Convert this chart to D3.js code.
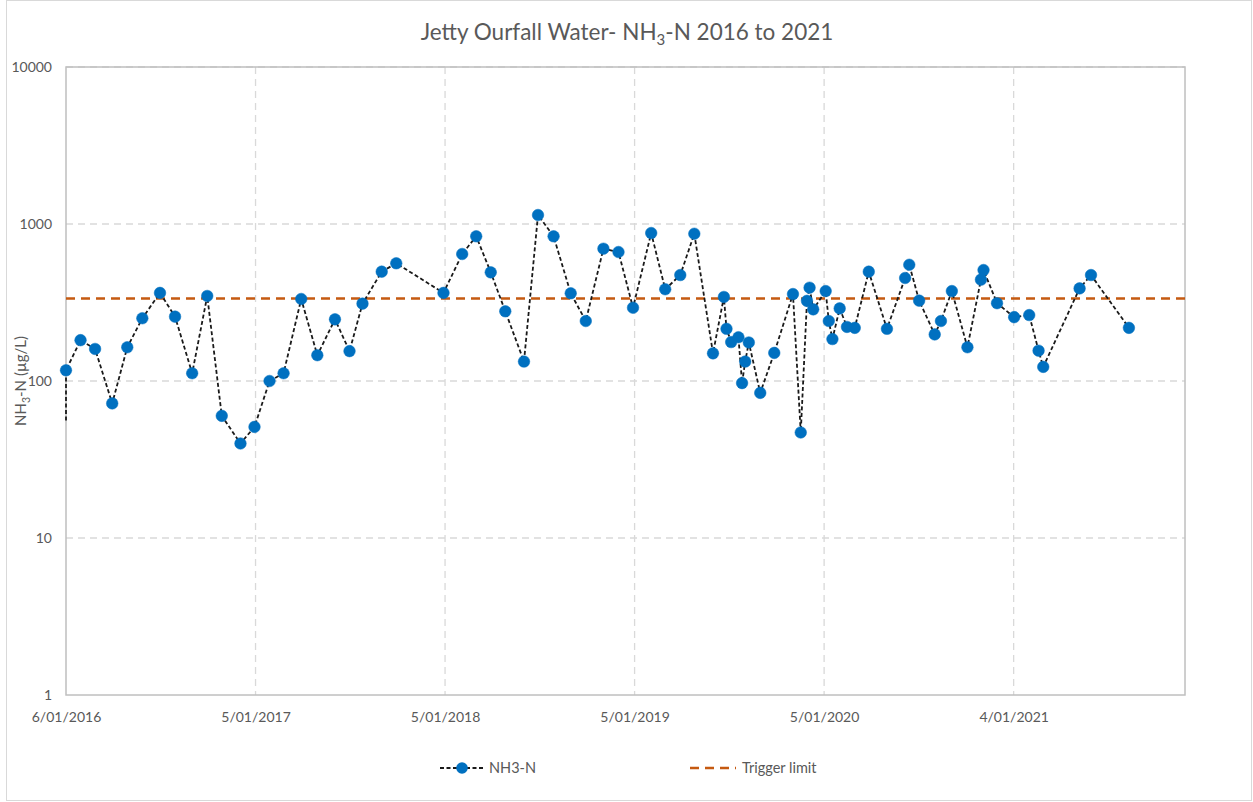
<!DOCTYPE html>
<html>
<head>
<meta charset="utf-8">
<script src="https://cdn.jsdelivr.net/npm/d3@7"></script>
<style>
  body { margin: 0; background: #fff; }
  text { font-family: Lato, "Open Sans", sans-serif; fill: #595959; }
</style>
</head>
<body>
<script>
// sample dates (yyyy-mm-dd) and NH3-N results in ug/L
var sampleDates = [
  "2016-01-06","2016-02-03","2016-03-02","2016-04-04","2016-05-03","2016-06-01",
  "2016-07-05","2016-08-03","2016-09-05","2016-10-04","2016-11-01","2016-12-07",
  "2017-01-03","2017-02-01","2017-02-28","2017-04-03","2017-05-04","2017-06-07",
  "2017-07-05","2017-07-30","2017-09-05","2017-10-03","2018-01-02","2018-02-07",
  "2018-03-06","2018-04-03","2018-05-01","2018-06-06","2018-07-03","2018-08-02",
  "2018-09-04","2018-10-03","2018-11-06","2018-12-05","2019-01-02","2019-02-06",
  "2019-03-05","2019-04-03","2019-04-30","2019-06-05","2019-06-26","2019-07-01",
  "2019-07-10","2019-07-24","2019-07-31","2019-08-06","2019-08-13","2019-09-04",
  "2019-10-01","2019-11-06","2019-11-21","2019-12-03","2019-12-08","2019-12-15",
  "2020-01-08","2020-01-14","2020-01-21","2020-02-04","2020-02-18","2020-03-04",
  "2020-03-31","2020-05-05","2020-06-09","2020-06-17","2020-07-06","2020-08-05",
  "2020-08-17","2020-09-07","2020-10-07","2020-11-02","2020-11-07","2020-12-03",
  "2021-01-05","2021-02-03","2021-02-21","2021-03-02","2021-05-11","2021-06-02",
  "2021-08-14"
];
var nh3Values = [
  117, 182, 160, 72, 164, 251,
  364, 257, 112, 348, 60, 40,
  51, 100, 112, 333, 146, 247,
  155, 311, 497, 562, 364, 644,
  835, 492, 278, 133, 1141, 835,
  362, 241, 696, 663, 293, 876,
  384, 473, 867, 150, 343, 215,
  177, 190, 97, 133, 176, 84,
  151, 358, 47, 324, 393, 286,
  374, 241, 185, 290, 221, 218,
  497, 215, 453, 550, 325, 198,
  241, 374, 164, 442, 509, 313,
  255, 263, 156, 123, 389, 473,
  218
];
// line starts from an unmarked reading on the first day
var leadInValue = 56;
var triggerLimit = 335;

var xTickDates = ["2016-01-06","2017-01-05","2018-01-05","2019-01-05","2020-01-05","2021-01-04"];
var xTickLabels = ["6/01/2016","5/01/2017","5/01/2018","5/01/2019","5/01/2020","4/01/2021"];
var xDomain = ["2016-01-06","2021-11-30"];
var yTicks = [1, 10, 100, 1000, 10000];

var w = 1253;
var h = 802;
var plotLeft = 66, plotRight = 1185, plotTop = 67, plotBottom = 695;

var parse = d3.timeParse("%Y-%m-%d");

var data = sampleDates.map(function(d, i) {
  return { date: parse(d), value: nh3Values[i] };
});
var lineData = [{ date: parse(sampleDates[0]), value: leadInValue }].concat(data);

var svg = d3.select("body")
  .append("svg")
  .attr("width", w)
  .attr("height", h);

// chart border
svg.append("rect")
  .attr("x", 6.5).attr("y", 0.5)
  .attr("width", w - 8).attr("height", h - 2)
  .attr("fill", "#fff")
  .attr("stroke", "#d9d9d9");

var x = d3.scaleTime()
  .domain(xDomain.map(parse))
  .range([plotLeft, plotRight]);

var y = d3.scaleLog()
  .domain([1, 10000])
  .range([plotBottom, plotTop]);

// gridlines
svg.append("g")
  .selectAll("line")
  .data(yTicks.slice(1))
  .enter()
  .append("line")
  .attr("x1", plotLeft).attr("x2", plotRight)
  .attr("y1", function(d) { return y(d); })
  .attr("y2", function(d) { return y(d); })
  .attr("stroke", "#d9d9d9")
  .attr("stroke-width", 1.3)
  .attr("stroke-dasharray", "7,5");

svg.append("g")
  .selectAll("line")
  .data(xTickDates.slice(1))
  .enter()
  .append("line")
  .attr("x1", function(d) { return x(parse(d)); })
  .attr("x2", function(d) { return x(parse(d)); })
  .attr("y1", plotTop).attr("y2", plotBottom)
  .attr("stroke", "#d9d9d9")
  .attr("stroke-width", 1.3)
  .attr("stroke-dasharray", "7,5");

// plot area frame
svg.append("rect")
  .attr("x", plotLeft).attr("y", plotTop)
  .attr("width", plotRight - plotLeft).attr("height", plotBottom - plotTop)
  .attr("fill", "none")
  .attr("stroke", "#bfbfbf")
  .attr("stroke-width", 1.5);

// axes
var yAxis = d3.axisLeft(y)
  .tickValues(yTicks)
  .tickFormat(d3.format("d"))
  .tickSize(0)
  .tickPadding(14);

svg.append("g")
  .attr("transform", "translate(" + plotLeft + ",0)")
  .call(yAxis)
  .call(function(g) { g.select(".domain").remove(); })
  .selectAll("text")
  .style("font-size", "14px")
  .attr("fill", "#595959");

var xAxis = d3.axisBottom(x)
  .tickValues(xTickDates.map(parse))
  .tickFormat(function(d, i) { return xTickLabels[i]; })
  .tickSize(0)
  .tickPadding(17);

svg.append("g")
  .attr("transform", "translate(0," + plotBottom + ")")
  .call(xAxis)
  .call(function(g) { g.select(".domain").remove(); })
  .selectAll("text")
  .style("font-size", "14px")
  .attr("fill", "#595959");

// trigger limit
svg.append("line")
  .attr("x1", plotLeft).attr("x2", plotRight)
  .attr("y1", y(triggerLimit)).attr("y2", y(triggerLimit))
  .attr("stroke", "#c55a11")
  .attr("stroke-width", 2.5)
  .attr("stroke-dasharray", "9,6");

// NH3-N series
var line = d3.line()
  .x(function(d) { return x(d.date); })
  .y(function(d) { return y(d.value); });

svg.append("path")
  .datum(lineData)
  .attr("d", line)
  .attr("fill", "none")
  .attr("stroke", "#1a1a1a")
  .attr("stroke-width", 1.8)
  .attr("stroke-dasharray", "4,2.5");

svg.selectAll("circle.pt")
  .data(data)
  .enter()
  .append("circle")
  .attr("class", "pt")
  .attr("cx", function(d) { return x(d.date); })
  .attr("cy", function(d) { return y(d.value); })
  .attr("r", 5.8)
  .attr("fill", "#0070c0")
  .attr("stroke", "#0070c0")
  .attr("stroke-width", 0.5);

// title
var title = svg.append("text")
  .attr("x", 627)
  .attr("y", 40)
  .attr("text-anchor", "middle")
  .style("font-size", "22.5px");
title.append("tspan").text("Jetty Ourfall Water- NH");
title.append("tspan").attr("dy", 5).style("font-size", "15px").text("3");
title.append("tspan").attr("dy", -5).text("-N 2016 to 2021");

// y axis title
var yTitle = svg.append("text")
  .attr("transform", "translate(26," + ((plotTop + plotBottom) / 2) + ") rotate(-90)")
  .attr("text-anchor", "middle")
  .style("font-size", "15px");
yTitle.append("tspan").text("NH");
yTitle.append("tspan").attr("dy", 4).style("font-size", "10.5px").text("3");
yTitle.append("tspan").attr("dy", -4).text("-N (µg/L)");

// legend
var legend = svg.append("g").attr("transform", "translate(0,768)");
legend.append("line")
  .attr("x1", 440).attr("x2", 484)
  .attr("stroke", "#1a1a1a")
  .attr("stroke-width", 1.8)
  .attr("stroke-dasharray", "4,2.5");
legend.append("circle")
  .attr("cx", 462).attr("cy", 0).attr("r", 5.8)
  .attr("fill", "#0070c0");
legend.append("text")
  .attr("x", 489).attr("dy", "0.35em")
  .style("font-size", "14.5px")
  .text("NH3-N");
legend.append("line")
  .attr("x1", 690).attr("x2", 736)
  .attr("stroke", "#c55a11")
  .attr("stroke-width", 2.5)
  .attr("stroke-dasharray", "9,6");
legend.append("text")
  .attr("x", 742).attr("dy", "0.35em")
  .style("font-size", "14.5px")
  .text("Trigger limit");
</script>
</body>
</html>
